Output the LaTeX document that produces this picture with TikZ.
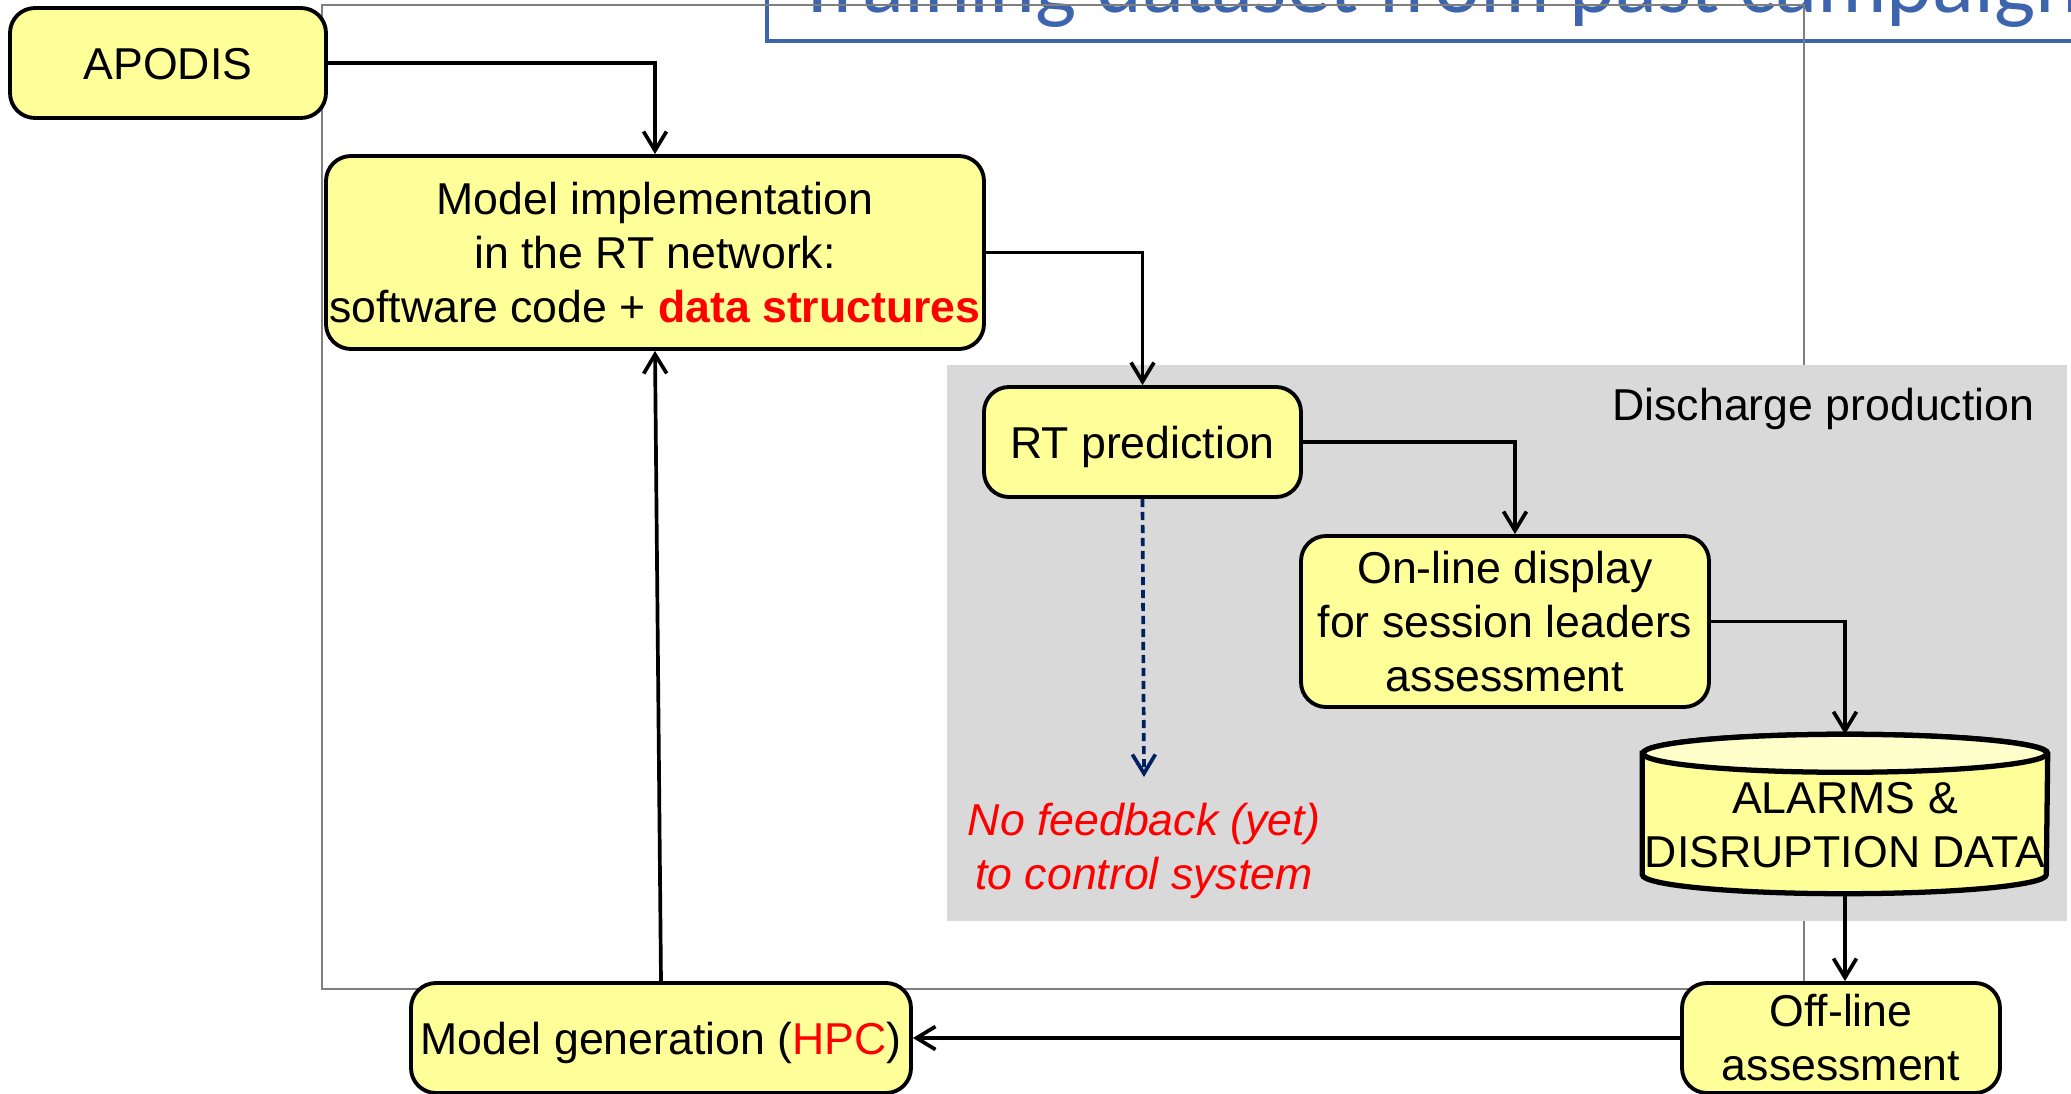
\documentclass[tikz,border=0pt]{standalone}
\usepackage{fontspec}
\setmainfont{Liberation Sans}
\newfontfamily\titlefont{Carlito}
\usetikzlibrary{arrows.meta}

\definecolor{boxyellow}{HTML}{FFFF99}
\definecolor{topyellow}{HTML}{FFFFCC}
\definecolor{regiongray}{HTML}{D9D9D9}
\definecolor{framegray}{HTML}{7F7F7F}
\definecolor{titleblue}{HTML}{3D65AD}
\definecolor{navy}{HTML}{002060}

\newcommand{\boxfont}{\fontsize{12.7}{15.35}\selectfont}

\tikzset{
	flowbox/.style={draw, line width=1.1pt, rounded corners=0.25cm, fill=boxyellow, align=center, inner sep=0pt},
	oneline/.style={text height=0.95em, text depth=0pt},
	link/.style={line width=1.05pt, -{Straight Barb[length=1.9mm,width=2.3mm]}},
	dbline/.style={line width=1.5pt}
}

\begin{document}
\begin{tikzpicture}[font=\boxfont]
				\useasboundingbox (0,0) rectangle (20.71,-10.94);
				\clip (0,0) rectangle (20.71,-10.94);
				
				%% title, cut by the top edge
				\draw[titleblue, line width=1pt] (7.67,0.6) rectangle (21.2,-0.41);
				\node[titleblue, anchor=base west, inner sep=0pt, font=\titlefont\fontsize{24.8}{28}\selectfont] (title) at (7.96,-0.13) {Training dataset from past campaign};
				
				%% frame and production area
				\draw[framegray, line width=0.4pt] (3.22,-0.05) rectangle (18.04,-9.89);
				\fill[regiongray] (9.47,-3.65) rectangle (20.67,-9.21);
				\node[oneline, anchor=east, inner sep=0pt] (prodlabel) at (20.35,-4.04) {Discharge production};
				
				%% boxes
				\node[flowbox, oneline, minimum width=3.16cm, minimum height=1.10cm] (apodis) at (1.68,-0.63) {APODIS};
				\node[flowbox, minimum width=6.58cm, minimum height=1.93cm] (impl) at (6.55,-2.525) {Model implementation\\in the RT network:\\software code + \textcolor{red}{\textbf{data structures}}};
				\node[flowbox, oneline, minimum width=3.17cm, minimum height=1.10cm] (rtpred) at (11.425,-4.42) {RT prediction};
				\node[flowbox, minimum width=4.08cm, minimum height=1.71cm] (online) at (15.05,-6.215) {On-line display\\for session leaders\\assessment};
				\node[flowbox, minimum width=3.18cm, minimum height=1.10cm] (offline) at (18.41,-10.38) {Off-line\\assessment};
				\node[flowbox, oneline, minimum width=5.00cm, minimum height=1.10cm] (modelgen) at (6.61,-10.38) {Model generation (\textcolor{red}{HPC})};
				
				%% data store
				\node[minimum width=4.04cm, minimum height=1.58cm, inner sep=0pt] (db) at (18.45,-8.14) {};
				\draw[dbline, fill=boxyellow] ([yshift=-0.19cm]db.north west) -- ([yshift=0.19cm]db.south west) arc[start angle=180, end angle=360, x radius=2.02cm, y radius=0.19cm] -- ([yshift=-0.19cm]db.north east) arc[start angle=0, end angle=180, x radius=2.02cm, y radius=0.19cm] -- cycle;
				\draw[dbline, fill=topyellow] ([yshift=-0.19cm]db.north) ellipse[x radius=2.02cm, y radius=0.19cm];
				\node[align=center, inner sep=0pt] (dblabel) at ([yshift=-0.11cm]db.center) {ALARMS \&\\DISRUPTION DATA};
				
				%% connectors
				\draw[link] (apodis.east) -| (impl.north);
				\draw[link] (impl.east) -| (rtpred.north);
				\draw[link] (rtpred.east) -| ([xshift=0.1cm]online.north);
				\draw[link] (online.east) -| (db.north);
				\draw[link] (db.south) -- (db.south |- offline.north);
				\draw[link] (offline.west) -- (modelgen.east);
				\draw[link] (modelgen.north) -- (impl.south);
				
				%% no feedback
				\coordinate (nofb) at (11.44,-7.77);
				\draw[link, navy, dash pattern=on 2.3pt off 1.4pt] (rtpred.south) -- (nofb);
				\node[red, align=center, inner sep=0pt, font=\boxfont\itshape] (nofbtext) at (11.44,-8.51) {No feedback (yet)\\to control system};
\end{tikzpicture}
\end{document}
